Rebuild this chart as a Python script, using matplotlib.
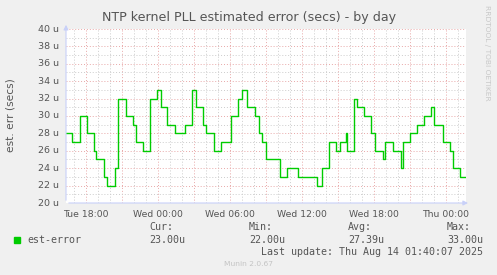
import pandas as pd
import matplotlib.pyplot as plt
import matplotlib.dates as mdates
from matplotlib.ticker import MultipleLocator

# step changes of est-error (micro-seconds)
change_times = [
    "2025-08-12 16:20", "2025-08-12 16:50", "2025-08-12 17:30", "2025-08-12 18:05",
    "2025-08-12 18:40", "2025-08-12 18:50", "2025-08-12 19:30", "2025-08-12 19:45",
    "2025-08-12 20:25", "2025-08-12 20:40", "2025-08-12 21:20", "2025-08-12 21:55",
    "2025-08-12 22:10", "2025-08-12 22:45", "2025-08-12 23:20", "2025-08-12 23:55",
    "2025-08-13 00:15", "2025-08-13 00:45", "2025-08-13 01:25", "2025-08-13 02:15",
    "2025-08-13 02:50", "2025-08-13 03:10", "2025-08-13 03:45", "2025-08-13 04:00",
    "2025-08-13 04:40", "2025-08-13 05:15", "2025-08-13 06:05", "2025-08-13 06:40",
    "2025-08-13 07:00", "2025-08-13 07:25", "2025-08-13 08:05", "2025-08-13 08:25",
    "2025-08-13 08:40", "2025-08-13 09:00", "2025-08-13 10:10", "2025-08-13 10:45",
    "2025-08-13 11:40", "2025-08-13 13:15", "2025-08-13 13:40", "2025-08-13 14:15",
    "2025-08-13 14:50", "2025-08-13 15:10", "2025-08-13 15:40", "2025-08-13 15:45",
    "2025-08-13 16:20", "2025-08-13 16:35", "2025-08-13 17:10", "2025-08-13 17:45",
    "2025-08-13 18:05", "2025-08-13 18:45", "2025-08-13 18:55", "2025-08-13 19:35",
    "2025-08-13 20:15", "2025-08-13 20:25", "2025-08-13 21:00", "2025-08-13 21:35",
    "2025-08-13 22:10", "2025-08-13 22:45", "2025-08-13 23:00", "2025-08-13 23:45",
    "2025-08-14 00:20", "2025-08-14 00:35", "2025-08-14 01:10", "2025-08-14 01:40",
]
est_error = [
    28, 27, 30, 28, 26, 25, 23, 22, 24, 32, 30, 29, 27, 26, 32, 33,
    31, 29, 28, 29, 33, 31, 29, 28, 26, 27, 30, 32, 33, 31, 30, 28,
    27, 25, 23, 24, 23, 22, 24, 27, 26, 27, 28, 26, 32, 31, 30, 28,
    26, 25, 27, 26, 24, 27, 28, 29, 30, 31, 29, 27, 26, 24, 23, 23,
]
y_ticks = list(range(20, 41, 2))
x_ticks = ["2025-08-12 18:00", "2025-08-13 00:00", "2025-08-13 06:00",
           "2025-08-13 12:00", "2025-08-13 18:00", "2025-08-14 00:00"]
x_tick_labels = ["Tue 18:00", "Wed 00:00", "Wed 06:00", "Wed 12:00", "Wed 18:00", "Thu 00:00"]

times = pd.to_datetime(change_times)
t0, t1 = times[0], times[-1]

bg = "#F0F0F0"
fig = plt.figure(figsize=(4.97, 2.75), dpi=100, facecolor=bg)
W, H = 497, 275
ax = fig.add_axes([66 / W, 1 - 203 / H, 400 / W, 174 / H])
ax.set_facecolor("white")

ax.step(times, est_error, where="post", color="#00CC00", linewidth=1.0, zorder=3)

ax.set_xlim(t0, t1)
ax.set_ylim(20, 40)

# grid: minor grey, major red-ish, dotted like rrdtool
ax.yaxis.set_major_locator(MultipleLocator(2))
ax.yaxis.set_minor_locator(MultipleLocator(1))
ax.xaxis.set_major_locator(mdates.HourLocator(byhour=range(0, 24, 3)))
ax.xaxis.set_minor_locator(mdates.HourLocator())
ax.grid(which="minor", color="#CCCCCC", linestyle=(0, (1, 2)), linewidth=0.7)
ax.grid(which="major", color="#E8A8A8", linestyle=(0, (1, 2)), linewidth=0.7)
ax.set_axisbelow(True)
ax.tick_params(which="both", length=0)
ax.set_xticklabels([])
ax.set_yticklabels([])
for s in ax.spines.values():
    s.set_visible(False)

# axis lines with small arrows
ax.annotate("", xy=(1.012, 0), xytext=(0, 0), xycoords="axes fraction",
            arrowprops=dict(arrowstyle="-|>", color="#C8D0F8", lw=0.8, mutation_scale=7))
ax.annotate("", xy=(0, 1.04), xytext=(0, 0), xycoords="axes fraction",
            arrowprops=dict(arrowstyle="-|>", color="#C8D0F8", lw=0.8, mutation_scale=7))

txt = "#555555"
for v in y_ticks:
    ax.text(-0.017, (v - 20) / 20, f"{v} u", transform=ax.transAxes,
            ha="right", va="center", fontsize=6.8, color=txt)
for t, lab in zip(x_ticks, x_tick_labels):
    ax.text(pd.Timestamp(t), 20 - 0.8, lab, ha="center", va="top",
            fontsize=6.7, color=txt)

fig.text(249 / W, 1 - 17 / H, "NTP kernel PLL estimated error (secs) - by day",
         ha="center", va="center", fontsize=9.1, color=txt)
fig.text(11 / W, 1 - 115 / H, "est. err (secs)", rotation=90, ha="center", va="center",
         fontsize=7.7, color=txt)
fig.text(487 / W, 1 - 53 / H, "RRDTOOL / TOBI OETIKER", rotation=270, ha="center",
         va="center", fontsize=5.4, color="#C8C8C8")

# legend / stats block
mono = "DejaVu Sans Mono"
fs = 7.2
fig.patches.append(plt.Rectangle((14 / W, 1 - 243 / H), 6 / W, 6 / H,
                                 transform=fig.transFigure, color="#00CC00"))
fig.text(27 / W, 1 - 240 / H, "est-error", family=mono, fontsize=fs, color=txt, va="center")
stats = [("Cur:", "23.00u", 149), ("Min:", "22.00u", 249),
         ("Avg:", "27.39u", 348), ("Max:", "33.00u", 447)]
for head, val, x in stats:
    fig.text(x / W, 1 - 227 / H, head, family=mono, fontsize=fs, color=txt, va="center")
    fig.text(x / W, 1 - 240 / H, val, family=mono, fontsize=fs, color=txt, va="center")
fig.text(483 / W, 1 - 252 / H, "Last update: Thu Aug 14 01:40:07 2025", family=mono,
         fontsize=fs, color=txt, va="center", ha="right")
fig.text(248 / W, 1 - 264 / H, "Munin 2.0.67", fontsize=5.4, color="#C4C4C4",
         ha="center", va="center")

fig.savefig("out.png", dpi=100, facecolor=bg)
